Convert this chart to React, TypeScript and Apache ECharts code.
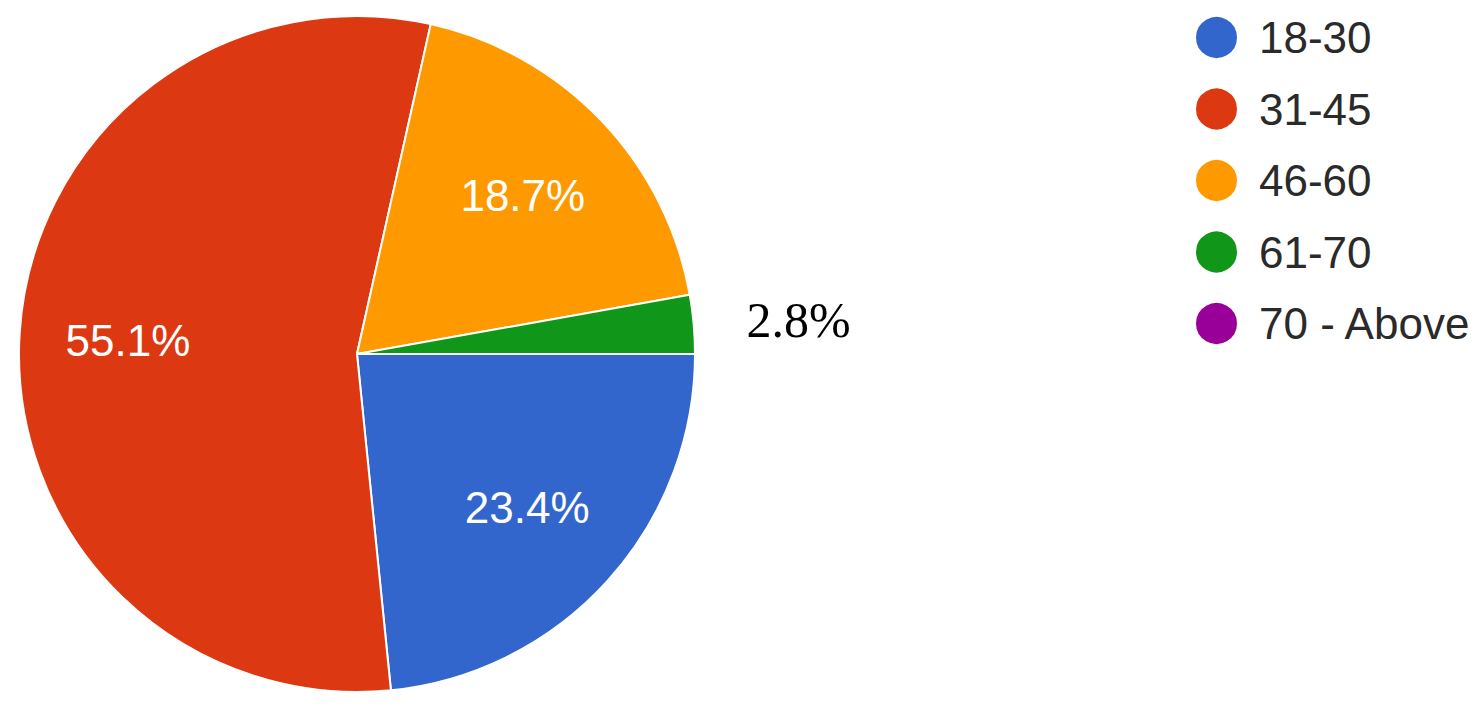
import React, { useEffect, useRef } from "react";
import * as echarts from "echarts";

const categories = ["18-30", "31-45", "46-60", "61-70", "70 - Above"];
const percentages = [23.4, 55.1, 18.7, 2.8, 0];
const colors = ["#3366cc", "#dc3912", "#ff9900", "#109618", "#990099"];
const outsideLabelIndex = 3;

export default function App() {
  const ref = useRef<HTMLDivElement>(null);
  useEffect(() => {
    document.body.style.margin = "0";
    const chart = echarts.init(ref.current!, null, { renderer: "svg" });
    const R = 338;
    const center = [357, 354];
    const sansFont = "'Liberation Sans', Arial, sans-serif";
    const mainData = categories.map((name, i) => ({
      name,
      value: percentages[i],
      itemStyle: { color: colors[i] },
      label:
        i === outsideLabelIndex
          ? {
              show: true,
              position: "outside",
              formatter: (p: any) => p.value.toFixed(1) + "%",
              color: "#000",
              fontFamily: "'Liberation Serif', 'Times New Roman', serif",
              fontSize: 50,
            }
          : { show: false },
      labelLine: { show: false, length: 44, length2: 4 },
    }));
    const labelData = categories.map((name, i) => ({
      name,
      value: percentages[i],
      itemStyle: { color: "rgba(0,0,0,0)" },
      label: {
        show: i !== outsideLabelIndex && percentages[i] > 0,
      },
    }));
    chart.setOption({
      animation: false,
      legend: {
        orient: "vertical",
        left: 1189,
        top: 10,
        icon: "circle",
        itemWidth: 43,
        itemHeight: 43,
        itemGap: 26.5,
        selectedMode: false,
        data: categories,
        textStyle: {
          fontFamily: sansFont,
          fontSize: 44,
          color: "#2a2a2a",
          padding: [0, 0, 0, 16],
        },
      },
      series: [
        {
          type: "pie",
          center,
          radius: [0, R],
          startAngle: 0,
          clockwise: true,
          silent: true,
          data: mainData,
          itemStyle: { borderColor: "#fff", borderWidth: 2 },
          labelLine: { show: false },
        },
        {
          type: "pie",
          center,
          radius: [R * 0.5, R * 0.84],
          startAngle: 0,
          clockwise: true,
          silent: true,
          data: labelData,
          label: {
            position: "inside",
            formatter: (p: any) => p.value.toFixed(1) + "%",
            color: "#fff",
            fontFamily: sansFont,
            fontSize: 44,
          },
          labelLine: { show: false },
        },
      ],
    });
    return () => chart.dispose();
  }, []);
  return <div ref={ref} style={{ width: 1484, height: 708 }} />;
}
